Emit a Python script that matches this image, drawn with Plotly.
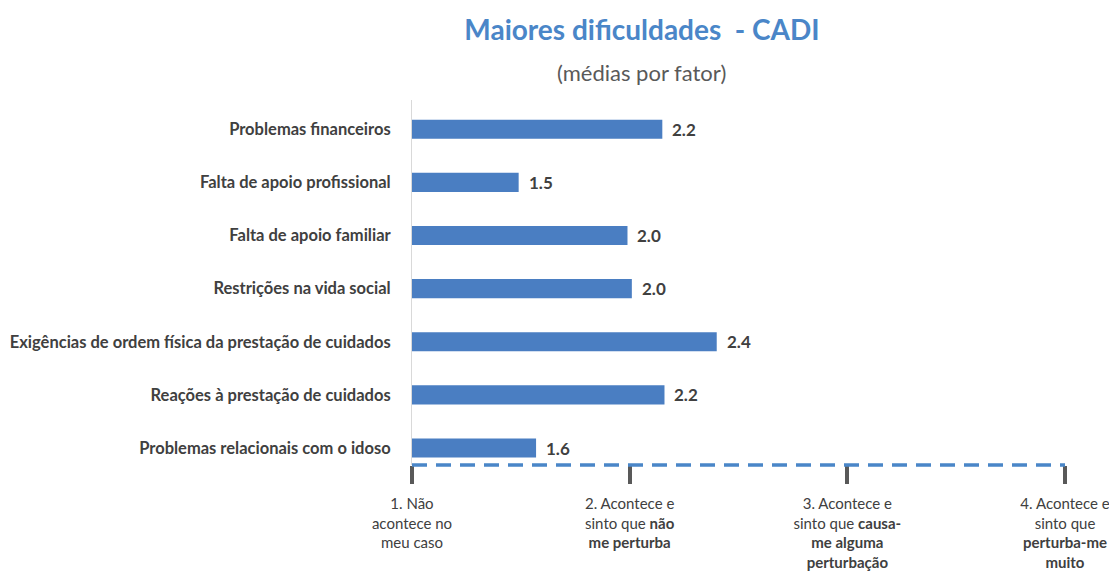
import plotly.graph_objects as go

# Data
categories = [
    "Problemas financeiros",
    "Falta de apoio profissional",
    "Falta de apoio familiar",
    "Restrições na vida social",
    "Exigências de ordem física da prestação de cuidados",
    "Reações à prestação de cuidados",
    "Problemas relacionais com o idoso",
]
values = [2.15, 1.49, 1.99, 2.01, 2.40, 2.16, 1.57]
value_labels = ["2.2", "1.5", "2.0", "2.0", "2.4", "2.2", "1.6"]

tick_vals = [1, 2, 3, 4]
tick_labels = [
    "1. Não<br>acontece no<br>meu caso",
    "2. Acontece e<br>sinto que <b>não</b><br><b>me perturba</b>",
    "3. Acontece e<br>sinto que <b>causa-</b><br><b>me alguma</b><br><b>perturbação</b>",
    "4. Acontece e<br>sinto que<br><b>perturba-me</b><br><b>muito</b>",
]

BAR = "#4a7ec2"
DASH = "#4a86c8"
TXT = "#404040"
FONT = "Lato, 'Open Sans', sans-serif"

# page body adds an 8px offset; size the figure so the visible frame matches
W, H, OFF = 1109, 563, 8

fig = go.Figure()
fig.add_trace(go.Bar(
    y=categories,
    x=values,
    orientation="h",
    marker=dict(color=BAR, line=dict(width=0)),
    showlegend=False,
    hoverinfo="x+y",
))

annotations = [
    dict(x=v, y=c, text=f"<b>{t}</b>", xref="x", yref="y",
         xanchor="left", yanchor="middle", xshift=8, showarrow=False,
         font=dict(family=FONT, size=17, color=TXT))
    for v, c, t in zip(values, categories, value_labels)
]
annotations.append(dict(
    text="(médias por fator)",
    xref="paper", yref="paper",
    x=(641 - 412) / 653, y=(465 - 73) / 365,
    xanchor="center", yanchor="middle", showarrow=False,
    font=dict(family=FONT, size=22, color="#595959"),
))

# dashed baseline across the scale
fig.add_shape(type="line", xref="x", yref="paper",
              x0=tick_vals[0], x1=tick_vals[-1], y0=0, y1=0,
              line=dict(color=DASH, width=3.5, dash="15px,9px"))

fig.update_layout(
    width=W, height=H,
    paper_bgcolor="white", plot_bgcolor="white",
    margin=dict(l=412 - OFF, r=W - (1065 - OFF), t=100 - OFF, b=H - (465 - OFF)),
    bargap=0.64,
    font=dict(family=FONT, color=TXT),
    title=dict(
        text="<b>Maiores dificuldades  - CADI</b>",
        font=dict(family=FONT, size=28, color="#4a86c8"),
        x=(642 - OFF) / W, xref="container", xanchor="center",
        y=1 - (30 - OFF) / H, yref="container", yanchor="middle",
    ),
    annotations=annotations,
)

fig.update_xaxes(
    range=[1, 4],
    tickvals=tick_vals, ticktext=tick_labels,
    ticks="outside", ticklen=18, tickwidth=3.5, tickcolor="#595959",
    showgrid=False, zeroline=False, showline=False,
    tickfont=dict(family=FONT, size=15, color=TXT),
    ticklabelstandoff=7,
    automargin=False,
)
fig.update_yaxes(
    categoryorder="array", categoryarray=categories,
    range=[6.32, -0.55],
    showgrid=False, zeroline=False,
    showline=True, linecolor="#d9d9d9", linewidth=1,
    ticks="", ticklabelstandoff=17,
    tickfont=dict(family=FONT, size=16.5, color=TXT, weight="bold"),
    automargin=False,
)

fig.write_html("out.html")
